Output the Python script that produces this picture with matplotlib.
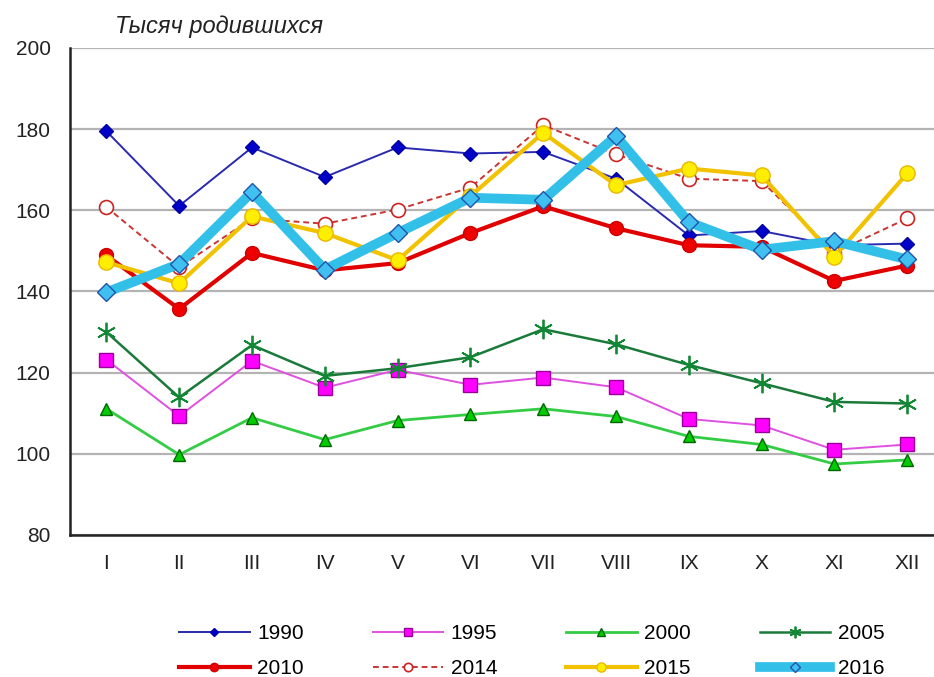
import matplotlib
matplotlib.use('Agg')
import matplotlib.pyplot as plt

# Monthly births, thousands
months = ['I', 'II', 'III', 'IV', 'V', 'VI', 'VII', 'VIII', 'IX', 'X', 'XI', 'XII']
y1990 = [179.5, 161.1, 175.5, 168.2, 175.5, 174.0, 174.4, 167.8, 153.8, 154.9, 151.4, 151.8]
y1995 = [123.2, 109.3, 122.9, 116.3, 120.7, 117.0, 118.8, 116.4, 108.6, 107.0, 101.0, 102.3]
y2000 = [111.1, 99.8, 108.9, 103.5, 108.2, 109.7, 111.1, 109.2, 104.3, 102.3, 97.5, 98.5]
y2005 = [130.0, 113.9, 126.8, 119.2, 121.1, 123.8, 130.7, 127.0, 121.9, 117.4, 112.8, 112.4]
y2010 = [148.9, 135.7, 149.5, 145.2, 147.0, 154.4, 161.0, 155.6, 151.4, 151.0, 142.6, 146.4]
y2014 = [160.8, 146.0, 158.0, 156.7, 160.2, 165.6, 181.0, 173.8, 167.8, 167.2, 149.6, 158.0]
y2015 = [147.2, 142.0, 158.5, 154.4, 147.7, 163.5, 179.1, 166.2, 170.3, 168.6, 148.6, 169.1]
y2016 = [139.8, 146.8, 164.5, 145.4, 154.4, 163.1, 162.6, 178.3, 157.1, 150.3, 152.4, 147.9]
yticks = [80, 100, 120, 140, 160, 180, 200]

plt.rcParams['font.family'] = ['Liberation Sans', 'DejaVu Sans']

fig = plt.figure(figsize=(9.34, 6.77), dpi=100)
ax = fig.add_axes([70 / 934, 1 - 535 / 677, 864 / 934, 487 / 677])

x = list(range(1, 13))

l90, = ax.plot(x, y1990, color='#2a2ab0', lw=1.4, marker='D', ms=7,
               mfc='#0000c8', mec='#0000a0', label='1990')
l95, = ax.plot(x, y1995, color='#e050e0', lw=1.4, marker='s', ms=10,
               mfc='#ff00ff', mec='#990099', mew=1.0, label='1995')
l00, = ax.plot(x, y2000, color='#33cc44', lw=2.0, marker='^', ms=9,
               mfc='#00cc00', mec='#006600', mew=1.0, label='2000')
l05, = ax.plot(x, y2005, color='#1a7a3a', lw=1.8, marker=(6, 2, 0), ms=14,
               mec='#118833', mew=1.3, label='2005')
l10, = ax.plot(x, y2010, color='#e00000', lw=3.0, marker='o', ms=10,
               mfc='#ee0000', mec='#cc0000', label='2010')
l14, = ax.plot(x, y2014, color='#cc3333', lw=1.4, ls=(0, (3, 2)), marker='o', ms=10,
               mfc='white', mec='#cc2222', mew=1.2, label='2014')
l15, = ax.plot(x, y2015, color='#f2c200', lw=3.0, marker='o', ms=11,
               mfc='#ffee00', mec='#e8b800', label='2015')
l16, = ax.plot(x, y2016, color='#33c0e8', lw=7, marker='D', ms=9,
               mfc='#40c0f0', mec='#2255aa', mew=1.0, label='2016')

ax.set_xlim(0.5, 0.5 + 864 / 72.8)
ax.set_ylim(80, 200)
ax.set_xticks(x)
ax.set_xticklabels(months)
ax.set_yticks(yticks)
ax.tick_params(length=0, labelsize=15, colors='#222222')
ax.tick_params(axis='y', pad=14)
ax.tick_params(axis='x', pad=14)

ax.grid(axis='y', color='#b4b4b4', lw=1.6)
ax.set_axisbelow(True)
for s in ['top', 'right']:
    ax.spines[s].set_visible(False)
for s in ['left', 'bottom']:
    ax.spines[s].set_color('#222222')
    ax.spines[s].set_linewidth(1.8)

fig.text(115 / 934, 1 - 27 / 677, 'Тысяч родившихся', fontsize=17,
         style='italic', color='#222222', va='center', ha='left')

# legend is filled column by column, so order the handles to read row-wise
handles = [l90, l10, l95, l14, l00, l15, l05, l16]
fig.legend(handles=handles, labels=[h.get_label() for h in handles],
           loc='upper left', bbox_to_anchor=(179 / 934, 1 - 624 / 677),
           ncol=4, frameon=False, fontsize=15, handlelength=3.4,
           handletextpad=0.35, columnspacing=3.3, borderpad=0,
           borderaxespad=0, labelspacing=0.78, markerscale=0.6)

plt.savefig('out.png', dpi=100)
